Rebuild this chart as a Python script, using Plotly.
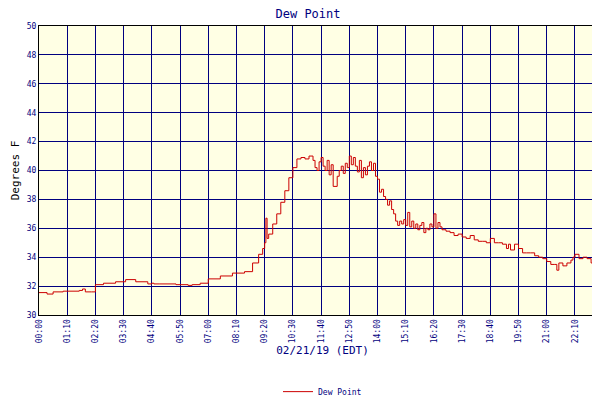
import plotly.graph_objects as go

# minutes after midnight, dew point in F
minutes = [0, 20, 35, 60, 100, 108, 115, 130, 140, 160, 190, 215, 240, 270, 280, 285, 300, 340, 370, 380, 400, 420, 450,
           480, 510, 530, 545, 555, 560, 563, 566, 570, 580, 590, 600, 610, 620, 630, 640, 650, 660, 670, 680, 685,
           690, 695, 700, 705, 710, 715, 720, 725, 730, 740, 745, 750, 755, 760, 765, 770, 775, 780, 785, 790,
           795, 800, 805, 810, 815, 820, 825, 830, 835, 840, 845, 850, 855, 860, 865, 870, 875, 880, 885, 890,
           895, 900, 905, 910, 915, 920, 925, 930, 935, 940, 945, 950, 955, 960, 965, 970, 975, 980, 985, 990,
           995, 1000, 1010, 1020, 1030, 1040, 1050, 1060, 1070, 1080, 1090, 1100, 1110, 1120, 1130, 1140, 1150,
           1160, 1165, 1170, 1180, 1190, 1200, 1210, 1220, 1230, 1240, 1250, 1260, 1270, 1280, 1285, 1290, 1300,
           1310, 1320, 1325, 1330, 1340, 1350, 1360, 1370, 1380, 1385, 1390, 1395, 1400, 1408]
dew_point = [31.55, 31.45, 31.6, 31.65, 31.7, 31.8, 31.6, 31.6, 32.1, 32.2, 32.3, 32.45, 32.3, 32.15, 32.2, 32.15, 32.15,
             32.1, 32.05, 32.1, 32.2, 32.5, 32.7, 32.9, 33.0, 33.6, 34.2, 34.6, 35.0, 36.7, 35.3, 35.6, 36.3, 37.0,
             37.8, 38.6, 39.5, 40.2, 40.8, 40.9, 40.8, 41.0, 40.7, 40.2, 40.0, 40.6, 40.9, 40.3, 40.0, 40.7, 39.7,
             40.4, 38.9, 39.6, 40.0, 40.3, 39.8, 40.5, 40.2, 41.0, 40.4, 40.9, 40.3, 39.9, 40.7, 39.5, 40.2, 39.7,
             40.3, 40.6, 40.0, 40.5, 39.6, 39.4, 38.5, 38.7, 38.2, 38.0, 37.6, 37.9, 37.3, 37.0, 36.5, 36.2, 36.5,
             36.3, 36.6, 36.2, 37.1, 36.1, 36.5, 36.0, 36.3, 35.9, 36.2, 36.4, 35.7, 36.0, 35.9, 36.3, 36.1, 37.0,
             36.0, 36.4, 36.1, 35.9, 35.8, 35.7, 35.5, 35.6, 35.4, 35.3, 35.5, 35.2, 35.1, 35.1, 35.0, 35.3, 35.0,
             35.0, 34.9, 34.6, 34.9, 34.5, 34.9, 34.6, 34.3, 34.3, 34.3, 34.1, 34.0, 33.9, 33.7, 33.5, 33.5, 33.1,
             33.6, 33.4, 33.6, 33.8, 34.0, 34.2, 33.9, 34.0, 33.9, 33.6, 33.3, 33.4, 33.1, 33.2, 32.8, 32.8]

tick_vals = [0, 70, 140, 210, 280, 350, 420, 490, 560, 630, 700, 770, 840, 910, 980, 1050, 1120, 1190, 1260,
             1330, 1400]
tick_text = ["00:00", "01:10", "02:20", "03:30", "04:40", "05:50", "07:00", "08:10", "09:20", "10:30", "11:40",
             "12:50", "14:00", "15:10", "16:20", "17:30", "18:40", "19:50", "21:00", "22:10", "23:20"]

navy = "#000080"
mono = "DejaVu Sans Mono"

fig = go.Figure()
fig.add_trace(go.Scatter(x=minutes, y=dew_point, mode="lines", line_shape="hv", name="Dew Point",
                         line=dict(color="#CC0000", width=1)))

fig.update_layout(
    width=600, height=400,
    margin=dict(l=31, r=2, t=18, b=63),
    paper_bgcolor="white", plot_bgcolor="#FFFFE4",
    font=dict(family=mono, size=8, color=navy),
    title=dict(text="Dew Point", x=0.5, xanchor="center", y=0.995, yanchor="top",
               font=dict(family=mono, size=12, color=navy)),
    showlegend=True,
    legend=dict(orientation="h", x=0.5, xanchor="center", y=-0.215, yanchor="top",
                font=dict(family=mono, size=8, color=navy)),
)
fig.update_xaxes(range=[0, 1407], tickvals=tick_vals, ticktext=tick_text, tickangle=-90, automargin=False,
                 showgrid=True, gridcolor=navy, gridwidth=1, zeroline=False,
                 showline=True, linecolor="black", mirror=True,
                 title=dict(text="02/21/19 (EDT)", font=dict(family=mono, size=11, color=navy), standoff=4))
fig.update_yaxes(range=[30, 50], dtick=2, automargin=False, showgrid=True, gridcolor=navy, gridwidth=1,
                 zeroline=False, showline=True, linecolor="black", mirror=True,
                 title=dict(text="Degrees F", font=dict(family=mono, size=11, color="black"), standoff=4))

fig.write_html("out.html")
